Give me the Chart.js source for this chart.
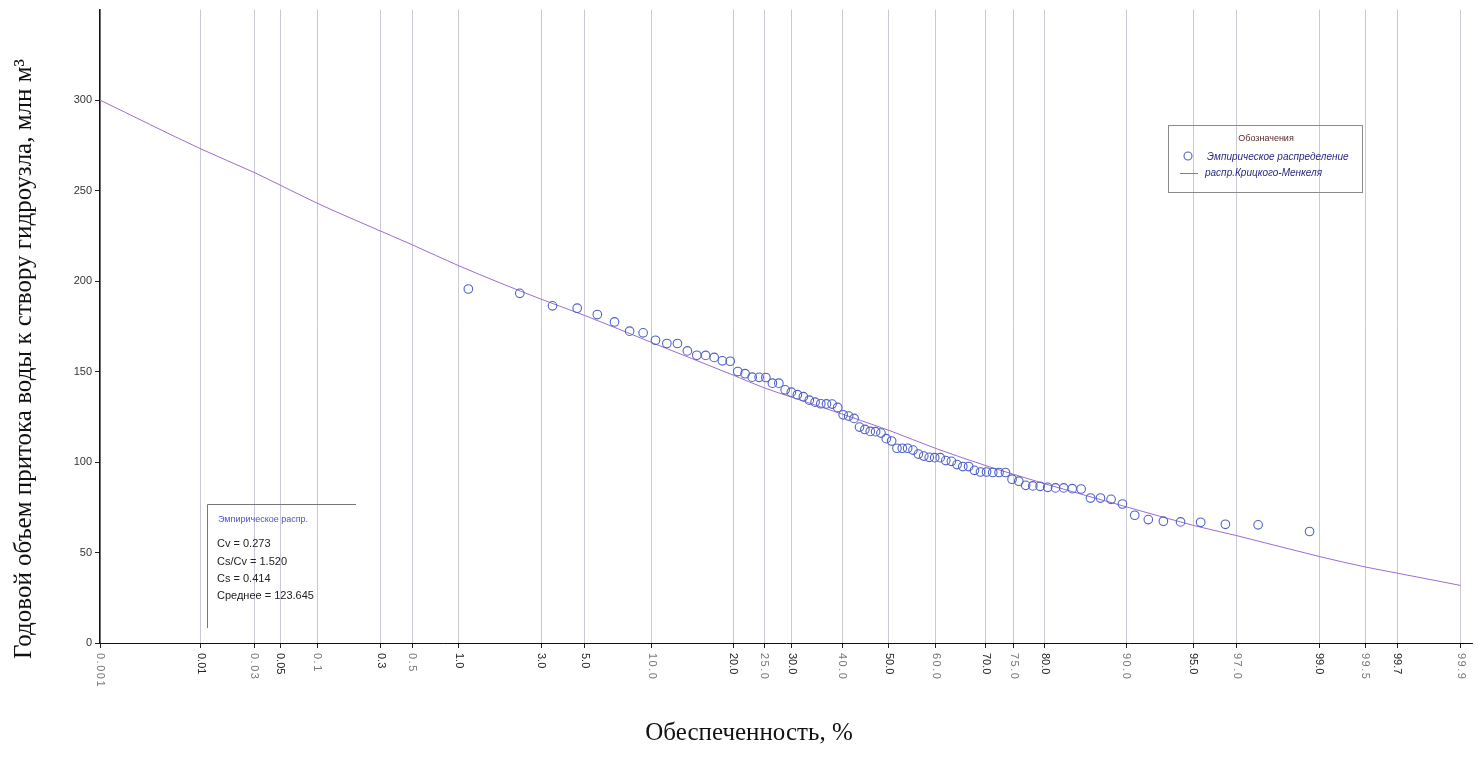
<!DOCTYPE html>
<html><head><meta charset="utf-8">
<script src="https://cdn.jsdelivr.net/npm/chart.js@4"></script>
<style>html,body{margin:0;padding:0;background:#fff;overflow:hidden}#wrap{width:1478px;height:764px}</style>
</head><body><div id="wrap"><canvas id="c" width="1478" height="764"></canvas></div>
<script>
// ---------------- DATA ----------------
const xTickProb = [0.001,0.01,0.03,0.05,0.1,0.3,0.5,1,3,5,10,20,25,30,40,50,60,70,75,80,90,95,97,99,99.5,99.7,99.9];
const xTickLabels = ['0.001','0.01','0.03','0.05','0.1','0.3','0.5','1.0','3.0','5.0','10.0','20.0','25.0','30.0','40.0','50.0','60.0','70.0','75.0','80.0','90.0','95.0','97.0','99.0','99.5','99.7','99.9'];
const yTicks = [0,50,100,150,200,250,300];

const empProb = [1.149,2.299,3.448,4.598,5.747,6.897,8.046,9.195,10.345,11.494,12.644,13.793,14.943,16.092,17.241,18.391,19.540,20.690,21.839,22.989,24.138,25.287,26.437,27.586,28.736,29.885,31.034,32.184,33.333,34.483,35.632,36.782,37.931,39.080,40.230,41.379,42.529,43.678,44.828,45.977,47.126,48.276,49.425,50.575,51.724,52.874,54.023,55.172,56.322,57.471,58.621,59.770,60.920,62.069,63.218,64.368,65.517,66.667,67.816,68.966,70.115,71.264,72.414,73.563,74.713,75.862,77.011,78.161,79.310,80.460,81.609,82.759,83.908,85.057,86.207,87.356,88.506,89.655,90.805,91.954,93.103,94.253,95.402,96.552,97.701,98.851];
const empValue = [195.6,193.2,186.3,185.0,181.5,177.4,172.3,171.4,167.3,165.5,165.5,161.4,159.0,158.9,157.8,155.9,155.7,150.0,148.8,146.9,146.8,146.7,143.6,143.6,139.9,138.6,137.2,136.1,134.2,133.1,132.2,132.1,132.0,130.2,126.1,125.4,124.1,119.3,118.0,116.9,116.8,116.0,112.9,111.6,107.6,107.6,107.6,106.6,104.4,103.3,102.6,102.4,102.4,100.8,100.4,98.6,97.5,97.5,95.4,94.5,94.5,94.2,94.2,94.2,90.5,89.4,87.1,86.8,86.6,86.0,85.7,85.7,85.3,85.1,80.1,80.1,79.4,76.8,70.6,68.2,67.3,66.9,66.7,65.6,65.3,61.6];

const curveProb = [0.001,0.01,0.03,0.05,0.1,0.3,0.5,1,3,5,10,20,25,30,40,50,60,70,75,80,90,95,97,99,99.5,99.7,99.9];
const curveValue = [300,273,260,253,243,227.6,220,208.5,190,181,166,148,141,135.8,126.5,117.5,107.5,98,93.2,88,75.3,65,59.3,47.8,42,38.6,31.8];

const legendTitle = 'Обозначения';
const legendItems = ['Эмпирическое распределение','распр.Крицкого-Менкеля'];
const statsTitle = 'Эмпирическое распр.';
const statsLines = ['Cv = 0.273','Cs/Cv = 1.520','Cs = 0.414','Среднее = 123.645'];
const xTitle = 'Обеспеченность, %';
const yTitle = 'Годовой объем притока воды к створу гидроузла, млн м³';

// ------------- probability-paper transform (inverse normal CDF) -------------
function probit(p){
  const a=[-3.969683028665376e+01,2.209460984245205e+02,-2.759285104469687e+02,1.383577518672690e+02,-3.066479806614716e+01,2.506628277459239e+00];
  const b=[-5.447609879822406e+01,1.615858368580409e+02,-1.556989798598866e+02,6.680131188771972e+01,-1.328068155288572e+01];
  const c=[-7.784894002430293e-03,-3.223964580411365e-01,-2.400758277161838e+00,-2.549732539343734e+00,4.374664141464968e+00,2.938163982698783e+00];
  const d=[7.784695709041462e-03,3.224671290700398e-01,2.445134137142996e+00,3.754408661907416e+00];
  const pl=0.02425, ph=1-pl; let q,r;
  if(p<pl){q=Math.sqrt(-2*Math.log(p));return (((((c[0]*q+c[1])*q+c[2])*q+c[3])*q+c[4])*q+c[5])/((((d[0]*q+d[1])*q+d[2])*q+d[3])*q+1);}
  if(p<=ph){q=p-0.5;r=q*q;return (((((a[0]*r+a[1])*r+a[2])*r+a[3])*r+a[4])*r+a[5])*q/(((((b[0]*r+b[1])*r+b[2])*r+b[3])*r+b[4])*r+1);}
  q=Math.sqrt(-2*Math.log(1-p));return -(((((c[0]*q+c[1])*q+c[2])*q+c[3])*q+c[4])*q+c[5])/((((d[0]*q+d[1])*q+d[2])*q+d[3])*q+1);
}
const zOf = pct => probit(pct/100);

const zMin = zOf(xTickProb[0]);
const zLast = zOf(xTickProb[xTickProb.length-1]);
const zMax = zMin + (zLast - zMin) * 1372 / 1360; // axis runs a bit past the last tick

const empPoints = empProb.map((p,i)=>({x:zOf(p), y:empValue[i]}));
const curvePoints = curveProb.map((p,i)=>({x:zOf(p), y:curveValue[i]}));

const faint = new Set(['0.001','0.03','0.1','0.5','10.0','25.0','40.0','60.0','75.0','90.0','97.0','99.5','99.9']);

const decor = {
  id:'decor',
  afterDraw(chart){
    const ctx = chart.ctx, xs = chart.scales.x;
    ctx.save();
    xTickProb.forEach((p,i)=>{
      const x = xs.getPixelForValue(zOf(p));
      const lab = xTickLabels[i];
      ctx.save();
      ctx.translate(x, 653);
      ctx.rotate(Math.PI/2);
      const f = faint.has(lab);
      ctx.font = '11px "Liberation Sans", Arial, sans-serif';
      ctx.fillStyle = f ? '#777' : '#222';
      if (f) ctx.letterSpacing = '1.5px';
      ctx.textAlign = 'left'; ctx.textBaseline = 'middle';
      ctx.fillText(lab, 0, 0);
      ctx.restore();
    });
    ctx.fillStyle = '#111';
    ctx.font = '25px "Liberation Serif", "Times New Roman", serif';
    ctx.textAlign = 'center'; ctx.textBaseline = 'alphabetic';
    ctx.fillText(xTitle, 749, 740);
    ctx.save();
    ctx.translate(31, 359);
    ctx.rotate(-Math.PI/2);
    ctx.fillText(yTitle, 0, 0);
    ctx.restore();

    ctx.strokeStyle = '#8a8a8a'; ctx.lineWidth = 1;
    ctx.strokeRect(1168.5, 125.5, 194, 67);
    ctx.font = '9px "Liberation Sans", Arial, sans-serif';
    ctx.fillStyle = '#5a2a2a'; ctx.textAlign = 'center'; ctx.textBaseline = 'middle';
    ctx.fillText(legendTitle, 1266, 139);
    ctx.beginPath(); ctx.arc(1188, 156, 4, 0, Math.PI*2);
    ctx.strokeStyle = '#4f63c4'; ctx.lineWidth = 1.1; ctx.stroke();
    ctx.beginPath(); ctx.moveTo(1180, 173.5); ctx.lineTo(1198, 173.5);
    ctx.strokeStyle = '#b060b0'; ctx.lineWidth = 1; ctx.stroke();
    ctx.font = 'italic 10px "Liberation Sans", Arial, sans-serif';
    ctx.fillStyle = '#2a2a80'; ctx.textAlign = 'left';
    ctx.fillText(legendItems[0], 1207, 157);
    ctx.fillText(legendItems[1], 1205, 173);

    ctx.strokeStyle = '#777'; ctx.lineWidth = 1;
    ctx.beginPath(); ctx.moveTo(207.5, 628); ctx.lineTo(207.5, 504.5); ctx.lineTo(356, 504.5); ctx.stroke();
    ctx.font = '9px "Liberation Sans", Arial, sans-serif';
    ctx.fillStyle = '#4a55c0';
    ctx.fillText(statsTitle, 218, 520);
    ctx.font = '11px "Liberation Sans", Arial, sans-serif';
    ctx.fillStyle = '#222';
    const ys = [544, 562, 579, 596];
    statsLines.forEach((s,i)=>ctx.fillText(s, 217, ys[i]));
    ctx.restore();
  }
};

new Chart(document.getElementById('c'), {
  type: 'scatter',
  data: {
    datasets: [
      { label: legendItems[1], data: curvePoints, showLine: true, pointRadius: 0, borderColor: '#9d6cd0', borderWidth: 1, cubicInterpolationMode: 'monotone', order: 2 },
      { label: legendItems[0], data: empPoints, pointRadius: 4.3, pointHoverRadius: 4.3, borderColor: '#4f63c4', backgroundColor: 'rgba(0,0,0,0)', borderWidth: 1.1, order: 1 }
    ]
  },
  options: {
    responsive: false, animation: false, devicePixelRatio: 1,
    layout: { padding: { top: 6, right: 0, bottom: 0, left: 0 } },
    plugins: { legend: { display: false }, tooltip: { enabled: false } },
    scales: {
      x: {
        type: 'linear', min: zMin, max: zMax,
        afterBuildTicks: s => { s.ticks = xTickProb.map(p=>({value: zOf(p)})); },
        afterFit: s => { s.height = 121; },
        ticks: { display: false },
        grid: { color: 'rgba(185,180,200,0.75)', lineWidth: 1, drawTicks: true, tickLength: 5, tickColor: '#222' },
        border: { color: '#111', width: 1 }
      },
      y: {
        min: 0, max: 350,
        afterBuildTicks: s => { s.ticks = yTicks.map(v=>({value: v})); },
        afterFit: s => { s.width = 100; },
        ticks: { font: { size: 11, family: '"Liberation Sans", Arial, sans-serif' }, color: '#333', padding: 3 },
        grid: { drawOnChartArea: false, drawTicks: true, tickLength: 5, tickColor: '#222' },
        border: { color: '#111', width: 1.5 }
      }
    }
  },
  plugins: [decor]
});
</script></body></html>
